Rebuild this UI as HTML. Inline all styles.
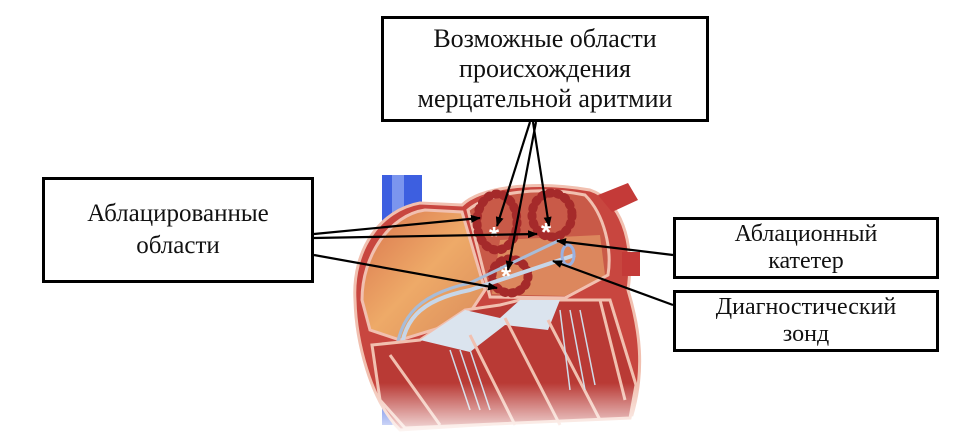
<!DOCTYPE html>
<html><head><meta charset="utf-8"><style>
html,body{margin:0;padding:0;background:#fff;}
body{width:974px;height:446px;position:relative;overflow:hidden;font-family:"Liberation Serif",serif;}
.b{position:absolute;border:3px solid #000;box-sizing:border-box;background:#fff;text-align:center;color:#111;display:flex;align-items:center;justify-content:center;flex-direction:column;}
svg{position:absolute;left:0;top:0;}
</style></head><body>
<svg width="974" height="446" viewBox="0 0 974 446">
<defs>
<marker id="a" markerWidth="10" markerHeight="8" refX="9" refY="4" orient="auto" markerUnits="userSpaceOnUse"><path d="M0,0 L10,4 L0,8 z" fill="#000"/></marker>
<linearGradient id="o" x1="0" y1="0" x2="1" y2="1"><stop offset="0" stop-color="#d9744d"/><stop offset="0.5" stop-color="#eeaa68"/><stop offset="1" stop-color="#d98a5a"/></linearGradient>
<linearGradient id="f" x1="0" y1="0" x2="0" y2="1"><stop offset="0.8" stop-color="#fff" stop-opacity="0"/><stop offset="1" stop-color="#fff" stop-opacity="0.9"/></linearGradient>
</defs>
<rect x="382" y="175" width="40" height="250" fill="#3d5fe0"/>
<rect x="392" y="175" width="12" height="250" fill="#7b95ee"/>
<path d="M355,300 C352,250 380,210 420,203 L462,205 C480,188 530,180 590,190 C620,200 635,240 628,290 C640,330 645,370 632,415 L400,430 C370,400 356,340 355,300 z" fill="#c8463f" stroke="#f1c0b0" stroke-width="3"/>
<path d="M598,195 L628,183 L638,200 L612,212 z" fill="#c43a38"/>
<path d="M622,252 L640,252 L640,276 L622,276 z" fill="#c43a38"/>
<path d="M362,300 C362,255 390,215 425,210 L462,212 L485,290 L465,320 L400,340 L370,330 z" fill="url(#o)" stroke="#f1c0b0" stroke-width="3"/>
<path d="M468,210 C490,192 540,186 585,195 C605,215 612,250 608,275 L565,298 L490,297 z" fill="#c95a48" stroke="#f1c0b0" stroke-width="3"/>
<path d="M500,240 L600,235 L605,275 L565,296 L492,294 z" fill="#e49a66" opacity="0.7"/>
<g fill="none" stroke="#a52a2a" stroke-width="9" stroke-dasharray="2 6" stroke-linecap="round">
<ellipse cx="497" cy="222" rx="20" ry="28"/>
<ellipse cx="552" cy="215" rx="20" ry="22"/>
<ellipse cx="510" cy="276" rx="18" ry="17"/>
</g>
<path d="M400,365 C400,320 420,300 470,290 L575,255" fill="none" stroke="#c7d6e8" stroke-width="4"/>
<path d="M395,370 C395,320 415,295 470,283 L560,240" fill="none" stroke="#a8bcd8" stroke-width="3"/>
<ellipse cx="568" cy="255" rx="6" ry="10" fill="none" stroke="#9ab0e0" stroke-width="3"/>
<path d="M372,345 L420,340 L465,310 L500,305 L520,300 L610,300 L636,385 L630,418 L405,428 L380,400 z" fill="#b93a35" stroke="#f1c0b0" stroke-width="3"/>
<path d="M420,340 L465,310 L500,318 L520,300 L560,300 L548,330 L505,325 L470,352 z" fill="#dbe4ee"/>
<path d="M470,335 L515,425 M505,318 L560,425 M548,320 L600,420 M390,355 L440,425 M600,300 L625,400" stroke="#f1c0b0" stroke-width="3" fill="none"/>
<g stroke="#cfdbe8" stroke-width="1.5"><path d="M450,350 L470,410 M460,350 L480,410 M470,350 L490,410 M560,310 L570,390 M570,310 L585,390 M580,310 L595,385"/></g>
<rect x="340" y="175" width="310" height="260" fill="url(#f)"/>
<g fill="#fff" font-family="Liberation Sans,sans-serif" font-weight="bold" font-size="26"><text x="489" y="245">*</text><text x="541" y="241">*</text><text x="501" y="285">*</text></g>
<g stroke="#000" stroke-width="2.2" fill="none" marker-end="url(#a)">
<line x1="530" y1="122" x2="497" y2="226"/>
<line x1="533" y1="122" x2="549" y2="226"/>
<line x1="536" y1="122" x2="508" y2="270"/>
<line x1="314" y1="234" x2="480" y2="218"/>
<line x1="314" y1="238" x2="537" y2="234"/>
<line x1="314" y1="255" x2="497" y2="288"/>
<line x1="673" y1="255" x2="557" y2="241"/>
<line x1="673" y1="305" x2="553" y2="261"/>
</g>
</svg>
<div class="b" style="left:381px;top:16px;width:328px;height:106px;font-size:26px;line-height:30px;">Возможные области<br>происхождения<br>мерцательной аритмии</div>
<div class="b" style="left:42px;top:177px;width:272px;height:106px;font-size:25px;line-height:32px;">Аблацированные<br>области</div>
<div class="b" style="left:673px;top:217px;width:266px;height:62px;font-size:24px;line-height:27px;">Аблационный<br>катетер</div>
<div class="b" style="left:673px;top:290px;width:266px;height:62px;font-size:24px;line-height:27px;">Диагностический<br>зонд</div>
</body></html>
